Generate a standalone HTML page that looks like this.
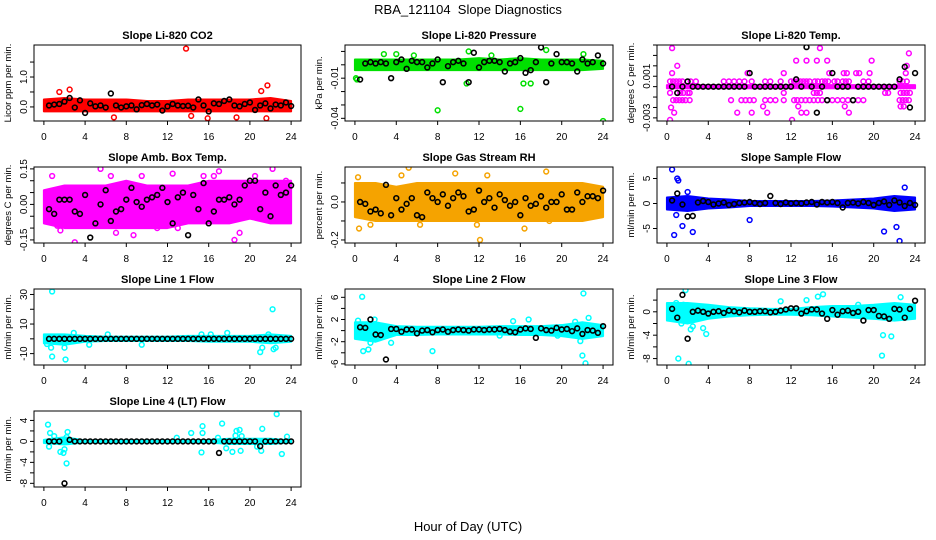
<!DOCTYPE html>
<html><head><meta charset="utf-8"><style>
html,body{margin:0;padding:0;background:#fff;}
svg{display:block;font-family:"Liberation Sans",sans-serif;}
</style></head><body>
<svg id="chart" width="936" height="540" viewBox="0 0 936 540" xmlns="http://www.w3.org/2000/svg">
<text x="468" y="14" font-size="13" text-anchor="middle" xml:space="preserve">RBA_121104  Slope Diagnostics</text>
<text x="468" y="531" font-size="13" text-anchor="middle">Hour of Day (UTC)</text>
</svg>
<script>
const HOURS=[0.5,1,1.5,2,2.5,3,3.5,4,4.5,5,5.5,6,6.5,7,7.5,8,8.5,9,9.5,10,10.5,11,11.5,12,12.5,13,13.5,14,14.5,15,15.5,16,16.5,17,17.5,18,18.5,19,19.5,20,20.5,21,21.5,22,22.5,23,23.5,24];
const BAND_HOURS=[0,2,4,6,8,10,12,14,16,18,20,22,24];
const X_TICKS=[0,4,8,12,16,20,24];

const p1Black=[0.05,0.08,0.1,0.18,0.3,-0.02,0.22,-0.2,0.12,0.02,0.05,-0.02,0.45,0.05,-0.02,0.02,0.05,-0.08,0.06,0.1,0.05,0.08,-0.12,0.02,0.1,0.05,0.03,0.04,-0.02,0.25,0.05,-0.15,0.12,0.1,0.2,0.25,0.05,0.02,0.1,0.15,-0.1,0.05,0.12,-0.05,0.08,0.05,0.15,0.03];
const p1BandLo=[-0.15,-0.15,-0.15,-0.15,-0.15,-0.15,-0.15,-0.15,-0.15,-0.15,-0.15,-0.15,-0.15];
const p1BandHi=[0.25,0.3,0.25,0.25,0.25,0.2,0.2,0.25,0.25,0.25,0.25,0.3,0.2];
const p1OutX=[13.8,1.5,2.5,21.7,21.1,6.8,15.9,18.7,14.3,21.6];
const p1OutY=[1.95,0.5,0.58,0.72,0.53,-0.35,-0.38,-0.35,-0.3,-0.38];

const p2Black=[-0.011,0.001,0.002,0.001,0.002,0.001,-0.01,0.002,0.004,-0.003,0.003,0.002,0.002,-0.002,0.001,0.004,-0.013,-0.001,0.002,0.003,0.001,-0.013,0.009,-0.002,0.002,0.003,0.003,0.002,-0.005,0.001,0.002,0.005,-0.006,-0.004,0.002,0.013,-0.013,0.001,0.008,0.002,0.002,0.001,-0.005,0.004,0.001,0.002,0.007,0.001];
const p2BandLo=[-0.004,-0.004,-0.004,-0.004,-0.004,-0.004,-0.004,-0.004,-0.004,-0.004,-0.004,-0.004,-0.003];
const p2BandHi=[0.004,0.004,0.004,0.004,0.004,0.004,0.005,0.004,0.005,0.004,0.004,0.004,0.003];
const p2OutX=[8,16,24,0.1,11,4,16.3,17,10.8,18.5,2.8,5.7,0.2,22.1,13.2];
const p2OutY=[-0.034,-0.033,-0.042,-0.01,0.01,0.008,-0.014,-0.014,-0.014,0.011,0.008,0.007,-0.011,0.008,0.007];

const p3Black=[0,-0.0006,0,0.0005,0,0,0,0,0,0,0,0,0,0,0,0.0013,0,0,0,0,0,0,0,0,0.0007,0,0.0038,0,-0.0025,0,-0.0013,0.0013,0,0,0,-0.0013,0,0,0,0,0,0,0,0,0.0007,0.0019,-0.002,0.0013];
const p3BandLo=[-0.00015,-0.00015,-0.00015,-0.00015,-0.00015,-0.00015,-0.00015,-0.00015,-0.00015,-0.00015,-0.00015,-0.00015,-0.00015];
const p3BandHi=[0.00015,0.00015,0.00015,0.00015,0.00015,0.00015,0.00015,0.00015,0.00015,0.00015,0.00015,0.00015,0.00015];
const p3LevelValues=[0.0005,-0.0013,-0.0006,0.0013];
const p3LevelHours=[
[0.3,0.6,0.9,1.2,1.5,2.3,2.8,5.5,6,6.5,7,7.5,8.2,9.5,10,11,12,12.3,12.6,12.9,13.2,13.5,13.8,14.3,14.6,15,15.3,15.6,16.2,16.5,17,17.3,17.6,19,19.5,22.5,22.8,23.2],
[0.6,0.9,1.2,1.5,1.8,2.2,6.2,7.2,7.6,8,8.4,9.5,10,10.5,11.3,12.3,12.6,13,13.4,13.8,14.2,14.6,15,15.5,16,16.5,17,17.5,18,18.5,19,22.5,22.8,23.1,23.4],
[0.3,1,1.3,1.6,2,2.2,11.3,14.2,14.5,14.8,21.1,21.4,22.6,22.9,23.2,23.5],
[0.5,7.8,11.3,15.7,17.1,17.4,18.3,18.6,19.6,23.1]];
const p3OutX=[0.5,14.8,1.0,12.5,13.5,14.5,15.5,19.8,23.4,23.2,0.3,0.4,0.7,6.8,8.2,9.3,9.7,12.1,12.7,13,13.5,17.2,17.6,22.6,22.9];
const p3OutY=[0.0037,0.0037,0.002,0.0025,0.0025,0.0025,0.0025,0.0025,0.0032,0.002,-0.0032,-0.002,-0.0025,-0.0025,-0.0025,-0.0019,-0.0025,-0.0032,-0.0019,-0.0025,-0.0025,-0.0019,-0.0025,-0.0019,-0.0019];

const p4Black=[-0.02,-0.04,0.02,0.02,0.02,-0.03,-0.04,0.04,-0.14,-0.08,0,0.06,-0.07,-0.03,-0.02,0.02,0.07,0.01,-0.01,0.02,0.03,0.04,0.07,0.01,-0.08,0.03,0.05,-0.13,0.04,-0.02,0.09,-0.08,-0.03,0.02,0.02,0.03,0,0.02,0.08,0.1,0.1,-0.02,0.05,-0.05,0.08,0.04,0.05,0.08];
const p4BandLo=[-0.08,-0.1,-0.1,-0.1,-0.1,-0.1,-0.1,-0.08,-0.08,-0.08,-0.06,-0.08,-0.08];
const p4BandHi=[0.06,0.08,0.08,0.08,0.1,0.08,0.08,0.08,0.1,0.1,0.1,0.1,0.1];
const p4OutX=[0.8,1.3,1.6,3,5.5,6.5,7,9.5,11,12.5,13,15.5,17,18.5,19,20.5,22.2,23.5,16.5,8.7];
const p4OutY=[0.12,-0.09,-0.11,-0.16,0.15,0.12,-0.12,0.12,-0.1,0.13,-0.1,0.12,0.14,-0.15,-0.12,0.12,0.15,0.1,0.12,-0.13];

const p5Black=[0,-0.01,-0.05,-0.04,-0.06,0.09,-0.07,0.02,-0.04,-0.01,0.02,-0.07,-0.08,0.05,0.02,0,0.04,-0.02,0.02,0.05,0.03,-0.05,-0.04,0.06,0,0.02,-0.03,0.04,0.01,-0.02,0,-0.07,0.02,-0.02,-0.01,0.03,-0.03,0,0,0.04,-0.04,-0.04,0.05,0,0.03,0.03,0.02,0.06];
const p5BandLo=[-0.08,-0.1,-0.1,-0.1,-0.1,-0.1,-0.1,-0.1,-0.1,-0.1,-0.1,-0.1,-0.08];
const p5BandHi=[0.1,0.1,0.08,0.1,0.1,0.1,0.1,0.1,0.1,0.1,0.1,0.1,0.08];
const p5OutX=[0.3,0.4,5.2,4.5,12.1,12.8,16.4,18.5,18.8,9.7,1.5,6.3,11.8];
const p5OutY=[0.13,-0.14,0.18,0.14,-0.2,0.14,-0.14,0.16,-0.1,0.15,-0.12,-0.12,-0.12];

const p6Black=[0.6,2,-0.2,-2.6,-2.5,0.2,0.5,0.3,-0.2,0,0.2,-0.3,-0.1,0.1,0.2,0.3,0.1,-0.1,0.1,1.5,0.1,-0.1,0.2,0,0.1,0,0.2,0.3,-0.2,0.3,0.2,0.3,0.1,-0.8,0.1,0.2,0,0.3,0.1,-0.3,0.1,0.4,-0.3,0.6,0.2,-0.5,0.1,-0.3];
const p6BandLo=[-1.2,-1.5,-1,-0.8,-0.5,-0.5,-0.5,-0.5,-0.6,-0.8,-1,-1.5,-1.2];
const p6BandHi=[1.2,1.5,1,0.8,0.5,0.5,0.5,0.5,0.6,0.8,1,1.5,1.2];
const p6OutX=[0.5,1,1.1,1.5,0.7,0.9,2.5,8,21,22.2,22.5,23,2];
const p6OutY=[6.8,5,4.6,-4.5,-6.3,-2.3,-5.7,-3.3,-5.6,-4.7,-7.5,3.2,2.3];

const p7Black=[0,0,0,0,0,0,0,0,0,0,0,0,0,0,0,0,0,0,0,0,0,0,0,0,0,0,0,0,0,0,0,0,0,0,0,0,0,0,0,0,0,0,0,0,0,0,0,0];
const p7BandLo=[-3,-4,-2,-1.5,-1.5,-1.5,-1.5,-1.5,-2,-2,-2,-3,-2];
const p7BandHi=[3,3,2,1.5,1.5,1.5,1.5,2,2,2,2,3,2];
const p7OutX=[0.8,0.8,0.3,0.7,2.1,2,2.9,4.4,6.2,9.5,15.3,16.2,17.8,21,21.2,22.2,22.3,22.5,21.8];
const p7OutY=[32,-12,-3.5,-6,-14,-6,4,-4,3,-4,3,3,4,-9,-6,20,-7,-6,3];

const p8Black=[0.6,0.5,2,-0.7,-0.8,-5.2,0.3,0.3,-0.2,0.2,0.2,-0.5,0,0.1,-0.3,0.1,0.2,-0.2,0.1,0.2,0.1,0,0.2,0.2,0.1,0.2,0.2,0.3,0.1,-0.2,-0.3,0.2,0.4,0.3,-1.3,0.4,0.1,0,0.5,0.2,0.3,-0.1,0.4,-0.6,0.1,0,-0.4,0.8];
const p8BandLo=[-1.5,-2,-0.8,-0.8,-0.7,-0.7,-0.7,-0.7,-0.8,-0.8,-1,-1.5,-1];
const p8BandHi=[1.5,1.5,0.8,0.7,0.7,0.7,0.7,0.8,0.8,0.8,1,1.5,1];
const p8OutX=[0.7,0.8,1.3,1.5,0.3,1.9,7.5,3.5,15.3,16.8,22,22.3,22.1,22.6,21.3,21.8,19.6,14];
const p8OutY=[6.1,-3.7,-3.4,-2.2,1.8,2,-3.7,-2.2,1.7,2,-4.5,-5.9,6.7,2.3,1.6,-1.9,-0.9,-0.9];

const p9Black=[0.5,-1,2.9,-4.6,0,0.2,0,-0.3,0,0.1,-0.2,0.2,0.1,-0.1,0.2,0,0,0.1,0.1,-0.1,0,0.2,0.4,0.6,0.6,-0.3,0.1,0.4,0.4,-0.3,-1.2,0.3,-0.5,0.1,0.2,-0.2,0,-1.5,0.3,0.3,-0.7,-0.8,-1.2,0.5,0.4,-1.0,0.5,1.9];
const p9BandLo=[-1.5,-2,-1.2,-0.8,-0.6,-0.5,-0.5,-0.6,-0.8,-1,-1.2,-1.5,-1.2];
const p9BandHi=[1.5,1.5,1.2,0.8,0.6,0.5,0.5,0.8,1,1,1.2,1.5,1.2];
const p9OutX=[1.1,1.8,2.1,0.9,1.4,2.3,2.5,3.5,3.8,11,13.5,14.6,15.1,20.8,20.9,21.7,22.6,21.5,18.5,1.6];
const p9OutY=[-8,3.7,-8.9,1.5,-2,-3,-2.5,-2.8,-3.8,1.8,2,2.6,3,-7.5,-4,-4.2,2.5,-1,1.2,1.2];

const p10Black=[0,0,0,-8,0.3,0,0,0,0,0,0,0,0,0,0,0,0,0,0,0,0,0,0,0,0,0,0,0,0,0,0,0,0,-2.2,0,0,0,0,0,0,0,-0.9,0,0,0,0,0,0];
const p10BandLo=[-0.3,-0.6,-0.2,-0.2,-0.2,-0.2,-0.2,-0.2,-0.2,-0.5,-0.5,-0.5,-0.2];
const p10BandHi=[0.3,0.8,0.2,0.2,0.2,0.2,0.2,0.2,0.3,0.5,0.5,0.5,0.2];
const p10OutX=[0.4,0.6,0.5,1.6,1.9,2.2,2.3,2.2,1,2,12.9,14.3,15.4,15.4,15.3,16.9,17.3,17.7,18.3,18.6,18.7,19,19.1,19.2,20.7,21.2,21.1,22.6,23.1,23.6];
const p10OutY=[3.2,1.6,-1,-2,-2.2,-4.2,1.8,0.8,1,-1.5,0.7,1.6,2.9,1.6,-2.1,0.7,3.4,-1.3,-2,1.1,2,2.2,-1.8,1,-1,2.4,-1.8,5.2,-2.4,0.9];

const p1YTicks=[0,0.5,1,1.5], p1YLabels=["0.0","","1.0",""];
const p2YTicks=[-0.04,-0.03,-0.02,-0.01,0,0.01], p2YLabels=["-0.04","","","-0.01","",""];
const p3YTicks=[-0.003,-0.002,-0.001,0,0.001,0.002,0.003,0.004], p3YLabels=["-0.003","","","","0.001","","",""];
const p4YTicks=[-0.15,-0.1,-0.05,0,0.05,0.1,0.15], p4YLabels=["-0.15","","","0.00","","","0.15"];
const p5YTicks=[-0.2,-0.1,0,0.1], p5YLabels=["-0.2","","0.0",""];
const p6YTicks=[-5,0,5], p6YLabels=["-5","0","5"];
const p7YTicks=[-10,0,10,20,30], p7YLabels=["-10","","10","","30"];
const p8YTicks=[-6,-4,-2,0,2,4,6], p8YLabels=["-6","","-2","","2","","6"];
const p9YTicks=[-8,-6,-4,-2,0,2], p9YLabels=["-8","","-4","","0",""];
const p10YTicks=[-8,-6,-4,-2,0,2,4], p10YLabels=["-8","","-4","","0","","4"];

const NS="http://www.w3.org/2000/svg";
const svg=document.getElementById('chart');
function mk(tag,attrs,parent){const e=document.createElementNS(NS,tag);for(const k in attrs)e.setAttribute(k,attrs[k]);(parent||svg).appendChild(e);return e;}

const COLS=[34,345,657], WID=[267,268,268];
const ROWS=[45,167,289,411], HT=76;

const panels=[
{key:'co2',title:'Slope Li-820 CO2',ylab:'Licor ppm per min.',col:0,row:0,ymin:-0.47,ymax:2.07,color:'#ff0000',black:p1Black,lo:p1BandLo,hi:p1BandHi,ox:p1OutX,oy:p1OutY,yt:p1YTicks,yl:p1YLabels},
{key:'pressure',title:'Slope Li-820 Pressure',ylab:'kPa per min.',col:1,row:0,ymin:-0.042,ymax:0.0148,color:'#00e000',black:p2Black,lo:p2BandLo,hi:p2BandHi,ox:p2OutX,oy:p2OutY,yt:p2YTicks,yl:p2YLabels},
{key:'temp',title:'Slope Li-820 Temp.',ylab:'degrees C per min.',col:2,row:0,ymin:-0.0033,ymax:0.0040,color:'#ff00ff',black:p3Black,lo:p3BandLo,hi:p3BandHi,ox:p3OutX,oy:p3OutY,yt:p3YTicks,yl:p3YLabels,levels:true},
{key:'amb-box-temp',title:'Slope Amb. Box Temp.',ylab:'degrees C per min.',col:0,row:1,ymin:-0.163,ymax:0.158,color:'#ff00ff',black:p4Black,lo:p4BandLo,hi:p4BandHi,ox:p4OutX,oy:p4OutY,yt:p4YTicks,yl:p4YLabels},
{key:'gas-stream-rh',title:'Slope Gas Stream RH',ylab:'percent per min.',col:1,row:1,ymin:-0.216,ymax:0.184,color:'#f5a300',black:p5Black,lo:p5BandLo,hi:p5BandHi,ox:p5OutX,oy:p5OutY,yt:p5YTicks,yl:p5YLabels},
{key:'sample-flow',title:'Slope Sample Flow',ylab:'ml/min per min.',col:2,row:1,ymin:-7.9,ymax:7.3,color:'#0000ff',black:p6Black,lo:p6BandLo,hi:p6BandHi,ox:p6OutX,oy:p6OutY,yt:p6YTicks,yl:p6YLabels},
{key:'line1-flow',title:'Slope Line 1 Flow',ylab:'ml/min per min.',col:0,row:2,ymin:-17.7,ymax:33.7,color:'#00ffff',black:p7Black,lo:p7BandLo,hi:p7BandHi,ox:p7OutX,oy:p7OutY,yt:p7YTicks,yl:p7YLabels},
{key:'line2-flow',title:'Slope Line 2 Flow',ylab:'ml/min per min.',col:1,row:2,ymin:-6.2,ymax:7.5,color:'#00ffff',black:p8Black,lo:p8BandLo,hi:p8BandHi,ox:p8OutX,oy:p8OutY,yt:p8YTicks,yl:p8YLabels},
{key:'line3-flow',title:'Slope Line 3 Flow',ylab:'ml/min per min.',col:2,row:2,ymin:-9.1,ymax:3.9,color:'#00ffff',black:p9Black,lo:p9BandLo,hi:p9BandHi,ox:p9OutX,oy:p9OutY,yt:p9YTicks,yl:p9YLabels},
{key:'line4-flow',title:'Slope Line 4 (LT) Flow',ylab:'ml/min per min.',col:0,row:3,ymin:-8.7,ymax:5.8,color:'#00ffff',black:p10Black,lo:p10BandLo,hi:p10BandHi,ox:p10OutX,oy:p10OutY,yt:p10YTicks,yl:p10YLabels}
];

panels.forEach(p=>{
  const L=COLS[p.col], W=WID[p.col], T=ROWS[p.row], B=T+HT;
  const xs=h=>L+(h+0.96)/25.92*W;
  const ys=v=>B-(v-p.ymin)/(p.ymax-p.ymin)*HT;
  const g=mk('g',{});
  
  
  const clip=mk('clipPath',{id:'clip-'+p.key},g);
  mk('rect',{x:L,y:T,width:W,height:HT},clip);
  const t=mk('text',{x:L+W/2,y:T-6,'font-size':11,'font-weight':'bold','text-anchor':'middle'},g);
  t.textContent=p.title;
  
  
  const yl=mk('text',{x:0,y:0,'font-size':9.5,'text-anchor':'middle',transform:`translate(${L-23},${T+HT/2}) rotate(-90)`},g);
  yl.textContent=p.ylab;
  
  
  const data=mk('g',{'clip-path':`url(#clip-${p.key})`},g);
  let pts=[];
  BAND_HOURS.forEach((h,i)=>pts.push(xs(h)+','+ys(p.hi[i])));
  for(let i=BAND_HOURS.length-1;i>=0;i--)pts.push(xs(BAND_HOURS[i])+','+ys(p.lo[i]));
  const band=mk('polygon',{points:pts.join(' '),fill:p.color,stroke:p.color,'stroke-width':2,'stroke-linejoin':'round'},data);
  
  
  if(p.levels){
    p3LevelValues.forEach((lv,li)=>{
      p3LevelHours[li].forEach(h=>{
        const c=mk('circle',{cx:xs(h),cy:ys(lv),r:2.4,fill:'none',stroke:p.color,'stroke-width':1.5},data);
        
        
      });
    });
  }
  p.ox.forEach((x,i)=>{
    const c=mk('circle',{cx:xs(x),cy:ys(p.oy[i]),r:2.4,fill:'none',stroke:p.color,'stroke-width':1.5},data);
    
    
  });
  p.black.forEach((v,i)=>{
    const c=mk('circle',{cx:xs(HOURS[i]),cy:ys(v),r:2.4,fill:'none',stroke:'#000','stroke-width':1.6},data);
    
    
  });
  const box=mk('rect',{x:L,y:T,width:W,height:HT,fill:'none',stroke:'#000','stroke-width':1},g);
  
  
  mk('line',{x1:xs(0),x2:xs(24),y1:B,y2:B,stroke:'#000'},g);
  X_TICKS.forEach(h=>{
    mk('line',{x1:xs(h),x2:xs(h),y1:B,y2:B+4,stroke:'#000'},g);
    const tl=mk('text',{x:xs(h),y:B+19,'font-size':10,'text-anchor':'middle'},g);
    tl.textContent=h;
    
    
  });
  p.yt.forEach((v,i)=>{
    const y=ys(v);
    mk('line',{x1:L-4,x2:L,y1:y,y2:y,stroke:'#000'},g);
    if(p.yl[i]){
      const tl=mk('text',{x:0,y:0,'font-size':10,'text-anchor':'middle',transform:`translate(${L-7},${y}) rotate(-90)`},g);
      tl.textContent=p.yl[i];
      
      
    }
  });
});
</script>
</body></html>
